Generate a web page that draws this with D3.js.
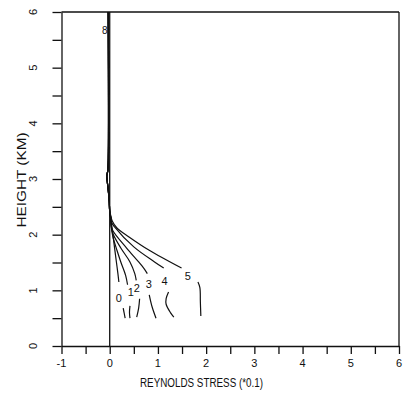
<!DOCTYPE html>
<html>
<head>
<meta charset="utf-8">
<script src="https://cdn.jsdelivr.net/npm/d3@7/dist/d3.min.js"></script>
<style>
  html, body { margin: 0; padding: 0; background: #fff; }
  svg text { font-family: "Liberation Sans", "DejaVu Sans", sans-serif; fill: #111; }
</style>
</head>
<body>
<svg id="chart" width="406" height="403"></svg>
<script>
// Axis ticks
const stressTicks = [-1, 0, 1, 2, 3, 4, 5, 6];
const heightTicks = [0, 1, 2, 3, 4, 5, 6];
const stressMinor = [-0.5, 0.5, 1.5, 2.5, 3.5, 4.5, 5.5];
const heightMinor = [0.5, 1.5, 2.5, 3.5, 4.5, 5.5];

// Shared profile above the divergence level (height km, stress x0.1)
const topHeight = [6.0, 3.3, 3.15, 3.05, 2.95, 2.8, 2.6, 2.42];
const topStress = [-0.03, -0.03, -0.04, -0.06, -0.05, -0.03, -0.01, 0.0];

// Curve labels
const curveNames = ["0", "1", "2", "3", "4", "5"];

// Upper branch of each curve (from divergence down to its label)
const upperHeight = [
  [2.3, 2.1, 1.9, 1.7, 1.5, 1.3, 1.15],
  [2.3, 2.1, 1.95, 1.72, 1.51, 1.27, 1.1],
  [2.3, 2.15, 2.03, 1.76, 1.51, 1.3, 1.18],
  [2.3, 2.18, 2.08, 1.76, 1.51, 1.38, 1.3],
  [2.32, 2.22, 2.14, 1.78, 1.51, 1.4],
  [2.35, 2.25, 2.12, 1.96, 1.72, 1.4]
];
const upperStress = [
  [0.02, 0.05, 0.08, 0.11, 0.14, 0.17, 0.19],
  [0.02, 0.04, 0.07, 0.15, 0.23, 0.33, 0.37],
  [0.02, 0.03, 0.06, 0.23, 0.42, 0.52, 0.55],
  [0.02, 0.03, 0.06, 0.35, 0.6, 0.72, 0.78],
  [0.02, 0.04, 0.1, 0.5, 0.93, 1.12],
  [0.02, 0.05, 0.15, 0.4, 0.82, 1.49]
];

// Lower branch of each curve (below its label)
const lowerHeight = [
  [0.68, 0.5],
  [0.72, 0.6, 0.5],
  [0.85, 0.68, 0.52],
  [0.92, 0.7, 0.5],
  [0.97, 0.85, 0.75, 0.6, 0.52],
  [1.15, 1.05, 0.8, 0.54]
];
const lowerStress = [
  [0.28, 0.32],
  [0.42, 0.41, 0.42],
  [0.62, 0.6, 0.56],
  [0.82, 0.88, 0.96],
  [1.22, 1.17, 1.17, 1.26, 1.33],
  [1.83, 1.87, 1.88, 1.89]
];

// Where each curve's label sits
const labelStress = [0.19, 0.44, 0.56, 0.81, 1.14, 1.62];
const labelHeight = [0.86, 0.97, 1.04, 1.11, 1.17, 1.26];

// Label where all curves overlap near the top
const topLabel = "8";
const topLabelStress = -0.1;
const topLabelHeight = 5.67;

const xTitle = "REYNOLDS STRESS (*0.1)";
const yTitle = "HEIGHT (KM)";

const svg = d3.select("#chart");
const x = d3.scaleLinear().domain([-1, 6]).range([61.5, 399]);
const y = d3.scaleLinear().domain([0, 6]).range([346, 12]);

const ink = "#111";
const sw = 1.3;

// Bottom axis with ticks every 0.5
const xAxis = d3.axisBottom(x)
  .tickValues(stressTicks.concat(stressMinor))
  .tickSize(8).tickSizeOuter(0).tickFormat(() => "");
const gx = svg.append("g").attr("transform", `translate(0,${y(0)})`).call(xAxis);

// Left axis with ticks every 0.5
const yAxis = d3.axisLeft(y)
  .tickValues(heightTicks.concat(heightMinor))
  .tickSize(9).tickSizeOuter(0).tickFormat(() => "");
const gy = svg.append("g").attr("transform", `translate(${x(-1)},0)`).call(yAxis);

[gx, gy].forEach(g => {
  g.selectAll("path.domain").attr("stroke", ink).attr("stroke-width", sw);
  g.selectAll(".tick line").attr("stroke", ink).attr("stroke-width", sw);
});

// Top and right frame
svg.append("line").attr("x1", x(-1)).attr("x2", x(6)).attr("y1", y(6)).attr("y2", y(6))
  .attr("stroke", ink).attr("stroke-width", sw);
svg.append("line").attr("x1", x(6)).attr("x2", x(6)).attr("y1", y(6)).attr("y2", y(0))
  .attr("stroke", ink).attr("stroke-width", sw);

// Zero stress line
svg.append("line").attr("x1", x(0)).attr("x2", x(0)).attr("y1", y(0)).attr("y2", y(6))
  .attr("stroke", ink).attr("stroke-width", sw);

// Tick labels
svg.append("g").selectAll("text").data(stressTicks).join("text")
  .attr("x", d => x(d)).attr("y", y(0) + 21)
  .attr("text-anchor", "middle").attr("font-size", 11)
  .text(d => d);

svg.append("g").selectAll("text").data(heightTicks).join("text")
  .attr("transform", d => `translate(37,${y(d)}) rotate(-90)`)
  .attr("text-anchor", "middle").attr("font-size", 11)
  .text(d => d);

// Axis titles
svg.append("text").attr("x", 140).attr("y", 387)
  .attr("font-size", 12.5).attr("textLength", 123).attr("lengthAdjust", "spacingAndGlyphs")
  .text(xTitle);
svg.append("text").attr("transform", "translate(26,180) rotate(-90)")
  .attr("text-anchor", "middle").attr("font-size", 12)
  .attr("textLength", 95).attr("lengthAdjust", "spacingAndGlyphs")
  .text(yTitle);

// Curves
const line = d3.line().x(d => x(d[0])).y(d => y(d[1])).curve(d3.curveCatmullRom.alpha(0.5));

const curves = svg.append("g").attr("fill", "none").attr("stroke", ink).attr("stroke-width", 1.2);
curveNames.forEach((name, i) => {
  const upper = topStress.map((s, j) => [s, topHeight[j]])
    .concat(upperStress[i].map((s, j) => [s, upperHeight[i][j]]));
  const lower = lowerStress[i].map((s, j) => [s, lowerHeight[i][j]]);
  curves.append("path").attr("d", line(upper));
  curves.append("path").attr("d", line(lower));
});

svg.append("g").selectAll("text").data(curveNames).join("text")
  .attr("x", (d, i) => x(labelStress[i])).attr("y", (d, i) => y(labelHeight[i]))
  .attr("text-anchor", "middle").attr("dominant-baseline", "central")
  .attr("font-size", 11)
  .text(d => d);

svg.append("text")
  .attr("x", x(topLabelStress)).attr("y", y(topLabelHeight))
  .attr("text-anchor", "middle").attr("dominant-baseline", "central")
  .attr("font-size", 10)
  .text(topLabel);
</script>
</body>
</html>
